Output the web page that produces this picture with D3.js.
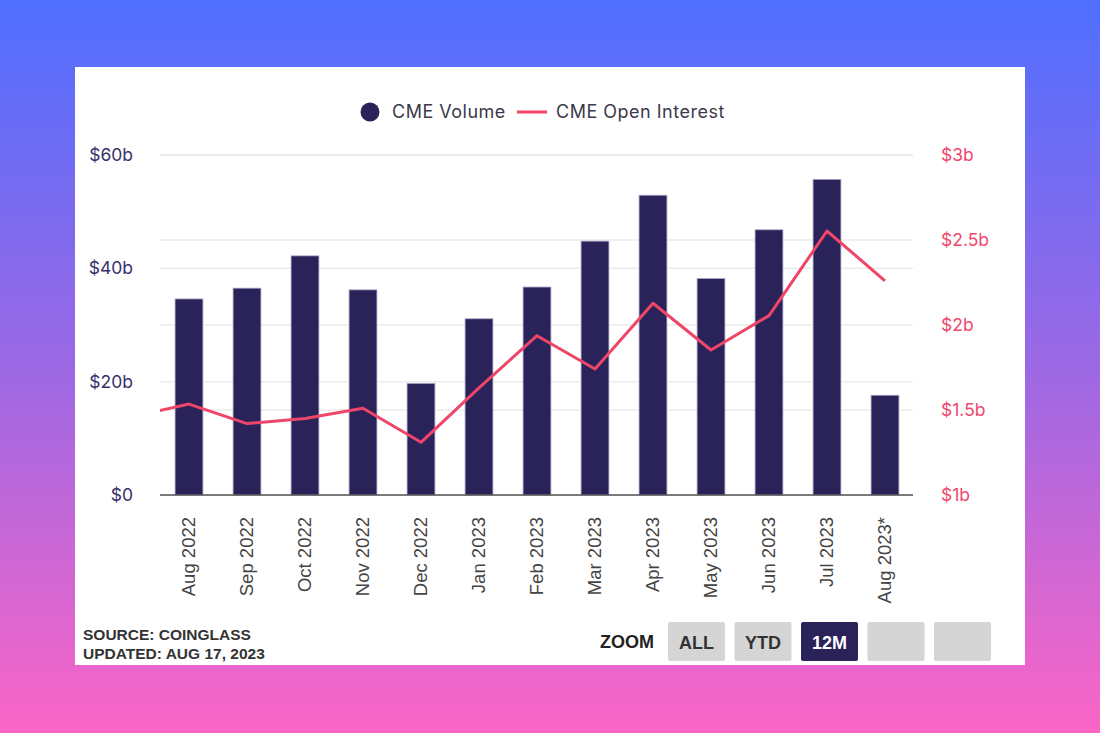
<!DOCTYPE html>
<html>
<head>
<meta charset="utf-8">
<script src="https://cdn.jsdelivr.net/npm/d3@7"></script>
<style>
html,body{margin:0;padding:0;}
body{width:1100px;height:733px;overflow:hidden;background:linear-gradient(180deg,#4f6fff 0%,#9c68e4 50%,#fb65c6 100%);}
svg{display:block;}
</style>
</head>
<body>
<svg id="chart" width="1100" height="733"></svg>
<script>
const categories = ["Aug 2022","Sep 2022","Oct 2022","Nov 2022","Dec 2022","Jan 2023","Feb 2023","Mar 2023","Apr 2023","May 2023","Jun 2023","Jul 2023","Aug 2023*"];
const cmeVolume = [34.6, 36.5, 42.2, 36.2, 19.7, 31.1, 36.7, 44.8, 52.9, 38.2, 46.8, 55.7, 17.6];
const cmeOpenInterest = [1.535, 1.42, 1.45, 1.51, 1.31, 1.63, 1.937, 1.741, 2.128, 1.853, 2.055, 2.553, 2.26];
const openInterestBefore = 1.46; // Jul 2022, just outside the visible window
const leftTicks = [0, 20, 40, 60];
const leftTickLabels = ["$0", "$20b", "$40b", "$60b"];
const rightTicks = [1, 1.5, 2, 2.5, 3];
const rightTickLabels = ["$1b", "$1.5b", "$2b", "$2.5b", "$3b"];
const zoomButtons = ["ALL", "YTD", "12M", "", ""];
const activeZoom = "12M";
const sourceLines = ["SOURCE: COINGLASS", "UPDATED: AUG 17, 2023"];

const barColor = "#2a2359";
const lineColor = "#ef4569";
const svg = d3.select("#chart");

// card
svg.append("rect").attr("x",75).attr("y",67).attr("width",950).attr("height",598).attr("fill","#fff");

const plot = {left:160, right:914, top:155, bottom:495};
const x = d3.scaleBand().domain(categories).range([plot.left, plot.right]).paddingInner(0.52).paddingOuter(0.26);
const yL = d3.scaleLinear().domain([0,60]).range([plot.bottom, plot.top]);
const yR = d3.scaleLinear().domain([1,3]).range([plot.bottom, plot.top]);

// gridlines
const grid = svg.append("g");
leftTicks.forEach(t => grid.append("line").attr("x1",plot.left).attr("x2",plot.right-1).attr("y1",yL(t)).attr("y2",yL(t)).attr("stroke","#ebebeb").attr("stroke-width",1.5));
rightTicks.forEach(t => grid.append("line").attr("x1",plot.left).attr("x2",plot.right-1).attr("y1",yR(t)).attr("y2",yR(t)).attr("stroke","#ebebeb").attr("stroke-width",1.5));

// left axis
const axL = svg.append("g").attr("transform",`translate(${plot.left},0)`)
  .call(d3.axisLeft(yL).tickValues(leftTicks).tickFormat((d,i)=>leftTickLabels[i]).tickSize(0).tickPadding(27));
axL.select(".domain").remove();
axL.selectAll("text").attr("font-family","Inter, sans-serif").attr("font-size",17.5).attr("fill","#37316b");

// right axis
const axR = svg.append("g").attr("transform",`translate(${plot.right},0)`)
  .call(d3.axisRight(yR).tickValues(rightTicks).tickFormat((d,i)=>rightTickLabels[i]).tickSize(0).tickPadding(27));
axR.select(".domain").remove();
axR.selectAll("text").attr("font-family","Inter, sans-serif").attr("font-size",17.5).attr("fill","#f0486d");

// bars
svg.append("g").selectAll("rect").data(categories).join("rect")
  .attr("x", d => x(d))
  .attr("y", (d,i) => yL(cmeVolume[i]))
  .attr("width", x.bandwidth())
  .attr("height", (d,i) => yL(0) - yL(cmeVolume[i]))
  .attr("fill", barColor)
  .attr("stroke","#a9a6c6").attr("stroke-width",0.8);

// baseline
svg.append("line").attr("x1",plot.left).attr("x2",plot.right-1).attr("y1",plot.bottom).attr("y2",plot.bottom).attr("stroke","#555").attr("stroke-width",1.5);

// x axis
const axX = svg.append("g").attr("transform",`translate(0,${plot.bottom})`)
  .call(d3.axisBottom(x).tickSize(0).tickPadding(0));
axX.select(".domain").remove();
axX.selectAll("text")
  .attr("font-family","'Liberation Sans', Arial, sans-serif").attr("font-size",18.5).attr("fill","#444")
  .attr("transform","rotate(-90)").attr("text-anchor","end").attr("dy","0.35em").attr("x",-22).attr("y",0);

// line
svg.append("defs").append("clipPath").attr("id","clip").append("rect")
  .attr("x",plot.left).attr("y",plot.top-20).attr("width",plot.right-plot.left).attr("height",plot.bottom-plot.top+40);
const step = x.step();
const pts = [[x(categories[0]) + x.bandwidth()/2 - step, yR(openInterestBefore)]]
  .concat(categories.map((c,i) => [x(c) + x.bandwidth()/2, yR(cmeOpenInterest[i])]));
svg.append("path").attr("clip-path","url(#clip)")
  .attr("d", d3.line()(pts)).attr("fill","none").attr("stroke",lineColor).attr("stroke-width",3).attr("stroke-linejoin","round");

// legend
const lg = svg.append("g").attr("font-family","Inter, sans-serif").attr("font-size",18).attr("letter-spacing","0.5px").attr("fill","#3a3a4a");
lg.append("circle").attr("cx",370).attr("cy",112).attr("r",9.5).attr("fill",barColor);
lg.append("text").attr("x",392).attr("y",112).attr("dy","0.35em").text("CME Volume");
lg.append("line").attr("x1",517).attr("x2",547).attr("y1",112).attr("y2",112).attr("stroke",lineColor).attr("stroke-width",3);
lg.append("text").attr("x",556).attr("y",112).attr("dy","0.35em").text("CME Open Interest");

// source
svg.append("g").selectAll("text").data(sourceLines).join("text")
  .attr("x",83).attr("y",(d,i)=>640 + i*19)
  .attr("font-family","'Liberation Sans', Arial, sans-serif").attr("font-weight","bold").attr("font-size",15.5)
  .attr("fill","#333").text(d=>d);

// zoom buttons
svg.append("text").attr("x",600).attr("y",642).attr("dy","0.35em")
  .attr("font-family","'Liberation Sans', Arial, sans-serif").attr("font-weight","bold").attr("font-size",18)
  .attr("fill","#222").text("ZOOM");
const btn = svg.append("g").selectAll("g").data(zoomButtons).join("g")
  .attr("transform",(d,i)=>`translate(${668 + i*66.5},622)`);
btn.append("rect").attr("width",57).attr("height",39).attr("rx",2)
  .attr("fill", d => d===activeZoom ? barColor : "#d5d5d5");
btn.append("text").attr("x",28.5).attr("y",21).attr("dy","0.35em").attr("text-anchor","middle")
  .attr("font-family","'Liberation Sans', Arial, sans-serif").attr("font-weight","bold").attr("font-size",18)
  .attr("fill", d => d===activeZoom ? "#fff" : "#333").text(d=>d);
</script>
</body>
</html>
